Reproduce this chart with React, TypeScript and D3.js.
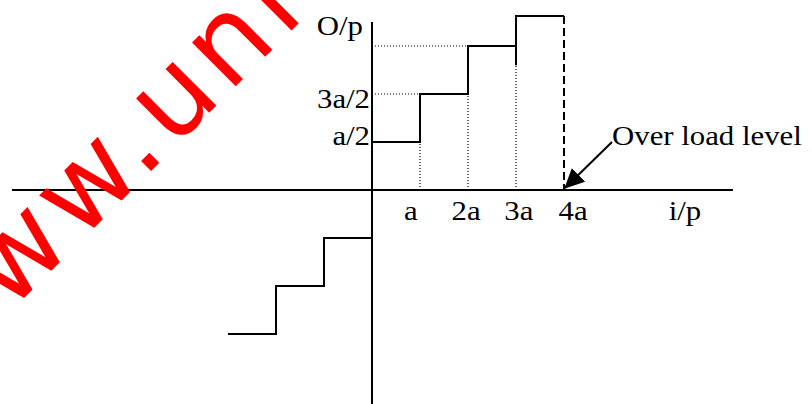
import React from 'react';
import * as d3 from 'd3';

// step input levels, in units of the step size a
const posSteps: [number, number][] = [[0, 1], [1, 2], [2, 3], [3, 3.625], [4, 3.625]];
const negSteps: [number, number][] = [[0, -1], [-1, -2], [-2, -3], [-3, -3]];

const xTickVals = [1, 2, 3, 4];
const xTickLabels = ['a', '2a', '3a', '4a'];
const xLabelPos = [0.81, 1.96, 3.06, 4.19];

const yTickLabels = ['a/2', '3a/2'];
const yLabelPos = [0.94, 1.71];

// dotted guide tops at each riser, and dotted rungs back to the o/p axis
const guideTops = [1, 2, 2.6];
const rungLevels = [2, 3];
const stub3a = [3, 2.6];
const overload = 4;
const overloadTop = 3.625;

const xAxisExtent = [-7.5, 7.52];
const yAxisExtent = [3.5, -4.5];

const W = 812, H = 404;

const x = d3.scaleLinear().domain([0, 1]).range([372, 420]);
const y = d3.scaleLinear().domain([0, 1]).range([190, 142]);

const stair = d3.line<[number, number]>()
  .x(d => x(d[0]))
  .y(d => y(d[1]))
  .curve(d3.curveStepAfter);

const serif = 'Liberation Serif, Times New Roman, serif';

const Label = ({ px, py, anchor = 'middle', children }: any) => (
  <text
    transform={`translate(${px},${py}) scale(1.1,1)`}
    textAnchor={anchor}
    fontFamily={serif}
    fontSize={28}
    fill="#000"
  >{children}</text>
);

export default function App() {
  return (
    <svg width={W} height={H} style={{ position: 'absolute', left: 0, top: 0, background: '#fff' }}>
      <defs>
        <marker id="head" markerUnits="userSpaceOnUse" markerWidth={20} markerHeight={19}
          viewBox="0 0 20 19" refX={19} refY={9.5} orient="auto">
          <path d="M0,0 L20,9.5 L0,19 Z" fill="#000" />
        </marker>
      </defs>

      {/* axes */}
      <line x1={x(xAxisExtent[0])} x2={x(xAxisExtent[1])} y1={y(0)} y2={y(0)} stroke="#000" strokeWidth={2} />
      <line x1={x(0)} x2={x(0)} y1={y(yAxisExtent[0])} y2={y(yAxisExtent[1])} stroke="#000" strokeWidth={2} />

      {/* dotted guides */}
      {xTickVals.slice(0, 3).map((v, i) => (
        <line key={'g' + i} x1={x(v)} x2={x(v)} y1={y(0)} y2={y(guideTops[i])}
          stroke="#000" strokeWidth={1.2} strokeDasharray="1,2" />
      ))}
      {rungLevels.map((lv, i) => (
        <line key={'r' + i} x1={x(0)} x2={x(i + 1)} y1={y(lv)} y2={y(lv)}
          stroke="#000" strokeWidth={1.2} strokeDasharray="1,2" />
      ))}

      {/* quantiser staircase */}
      <path d={stair(posSteps) || ''} fill="none" stroke="#000" strokeWidth={2} />
      <path d={stair(negSteps) || ''} fill="none" stroke="#000" strokeWidth={2} />
      <line x1={x(3)} x2={x(3)} y1={y(stub3a[0])} y2={y(stub3a[1])} stroke="#000" strokeWidth={2} />
      <line x1={x(overload)} x2={x(overload)} y1={y(overloadTop)} y2={y(0)}
        stroke="#000" strokeWidth={2} strokeDasharray="8,4" />

      {/* overload arrow */}
      <line x1={x(5)} y1={y(1)} x2={x(4.02)} y2={y(0.04)} stroke="#000" strokeWidth={2} markerEnd="url(#head)" />

      {/* labels */}
      {xTickLabels.map((t, i) => (
        <Label key={t} px={x(xLabelPos[i])} py={220}>{t}</Label>
      ))}
      <Label px={685} py={220}>i/p</Label>
      {yTickLabels.map((t, i) => (
        <Label key={t} px={x(0) - 2} py={y(yLabelPos[i])} anchor="end">{t}</Label>
      ))}
      <Label px={363} py={35} anchor="end">O/p</Label>
      <Label px={x(5)} py={145} anchor="start">Over load level</Label>

      {/* watermark */}
      <text transform="translate(-61,383) rotate(-45)" fontFamily="DejaVu Sans, sans-serif"
        fontSize={113} letterSpacing={7} fill="#ff0000">www.uni</text>
    </svg>
  );
}
